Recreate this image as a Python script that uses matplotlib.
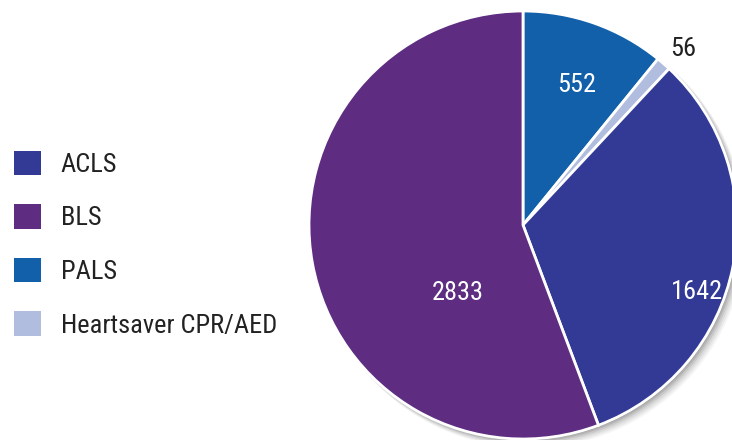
import matplotlib
matplotlib.use("Agg")
import matplotlib.pyplot as plt
import numpy as np
from matplotlib.patches import Circle, Patch

categories = ["ACLS", "BLS", "PALS", "Heartsaver CPR/AED"]
values = [1642, 2833, 552, 56]
colors = ["#323A96", "#5E2D82", "#1260AA", "#B1BDDF"]

# drawing order clockwise from 12 o'clock
order = [2, 3, 0, 1]

plt.rcParams['font.family'] = ['Roboto Condensed', 'DejaVu Sans']

W, H = 732, 440
fig = plt.figure(figsize=(W / 100, H / 100), dpi=100)
ax = fig.add_axes([0, 0, 1, 1])

cx, cy, R = 523, 215, 214

# soft shadow
for i, a in enumerate([0.04, 0.05, 0.06, 0.08, 0.10, 0.12]):
    off = 10 - i * 1.6
    ax.add_patch(Circle((cx + off * 0.7, cy - off * 0.7), R + 2 - i * 0.4,
                        facecolor='black', alpha=a, edgecolor='none', zorder=0))

vals = [values[i] for i in order]
cols = [colors[i] for i in order]
wedges, _ = ax.pie(vals, colors=cols, startangle=90, counterclock=False,
                   center=(cx, cy), radius=R, frame=True,
                   wedgeprops=dict(edgecolor='white', linewidth=2))
for w in wedges:
    w.set_zorder(2)
ax.set_xlim(0, W)
ax.set_ylim(0, H)
ax.set_aspect('equal')
ax.axis('off')

# label placement: (angle offset deg, radial fraction, color)
label_style = {
    2: (-1.3, 0.70, 'white'),
    3: (-1.2, 1.11, '#222222'),
    0: (-10, 0.87, 'white'),
    1: (36, 0.44, 'white'),
}
for w, idx in zip(wedges, order):
    mid = (w.theta1 + w.theta2) / 2
    da, fr, c = label_style[idx]
    ang = np.deg2rad(mid + da)
    ax.text(cx + fr * R * np.cos(ang), cy + fr * R * np.sin(ang), str(values[idx]),
            ha='center', va='center', fontsize=19, color=c, zorder=3)

handles = [Patch(facecolor=colors[i], edgecolor='none') for i in range(4)]
leg = fig.legend(handles, categories, loc='center left', bbox_to_anchor=(0.019, 0.445),
                 frameon=False, fontsize=19, handlelength=1.03, handleheight=1.03,
                 labelspacing=1.04, handletextpad=0.75, borderaxespad=0, borderpad=0)
for t in leg.get_texts():
    t.set_color('#222222')

fig.savefig("out.png", dpi=100)
